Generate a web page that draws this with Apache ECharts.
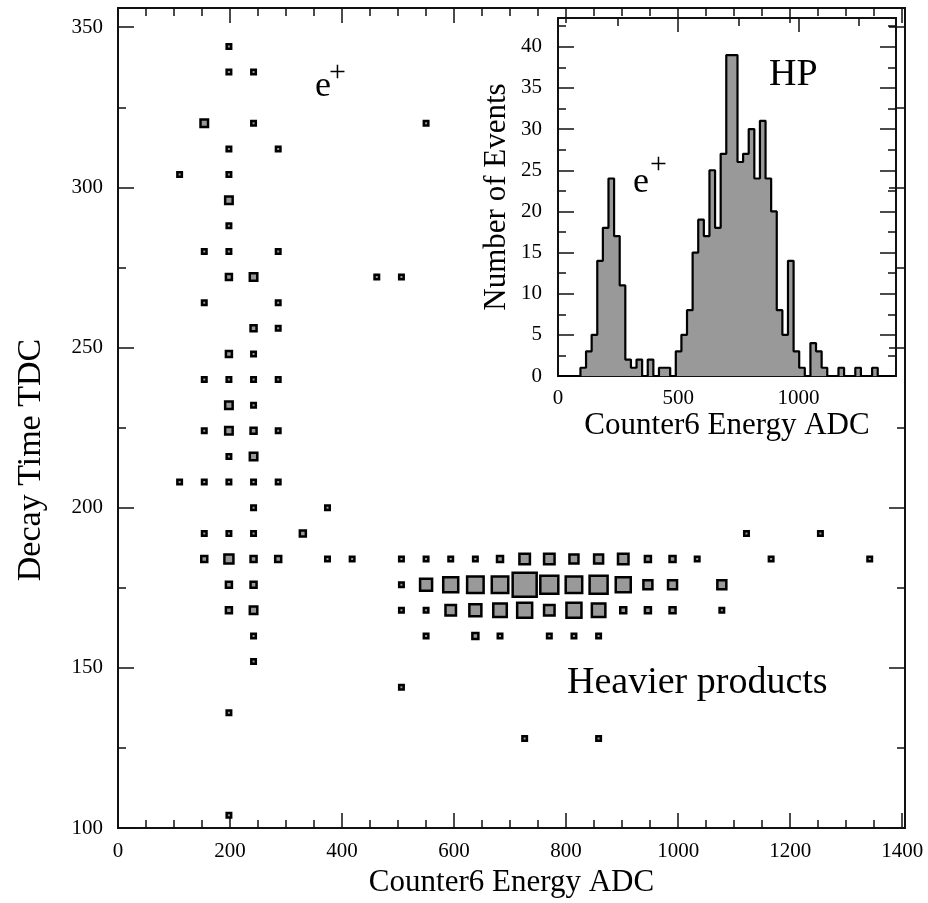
<!DOCTYPE html>
<html>
<head>
<meta charset="utf-8">
<title>Decay Time vs Counter6 Energy</title>
<script src="https://cdn.jsdelivr.net/npm/echarts@6/dist/echarts.min.js"></script>
<style>
  html, body { margin: 0; padding: 0; background: #fff; }
  #chart { width: 928px; height: 903px; }
</style>
</head>
<body>
<div id="chart"></div>
<script>
// 盒图数据：[能量 ADC 格子中心, 衰变时间 TDC 格子中心, 计数]
// e+ 区域（低能量竖列）
const positronCells = [
  [110, 304, 1], [110, 208, 1],
  [154, 320, 3], [154, 280, 1], [154, 264, 1], [154, 240, 1], [154, 224, 1], [154, 208, 1], [154, 192, 1], [154, 184, 2],
  [198, 344, 1], [198, 336, 1], [198, 312, 1], [198, 304, 1], [198, 296, 3], [198, 288, 1], [198, 280, 1], [198, 272, 2],
  [198, 248, 2], [198, 240, 1], [198, 232, 3], [198, 224, 3], [198, 216, 1], [198, 208, 1], [198, 192, 1], [198, 184, 4],
  [198, 176, 2], [198, 168, 2], [198, 136, 1], [198, 104, 1],
  [242, 336, 1], [242, 320, 1], [242, 272, 3], [242, 256, 2], [242, 248, 1], [242, 240, 1], [242, 232, 1], [242, 224, 2],
  [242, 216, 3], [242, 208, 1], [242, 200, 1], [242, 192, 1], [242, 184, 2], [242, 176, 2], [242, 168, 3], [242, 160, 1], [242, 152, 1],
  [286, 312, 1], [286, 280, 1], [286, 264, 1], [286, 256, 1], [286, 240, 1], [286, 224, 1], [286, 208, 1], [286, 184, 2],
  [330, 192, 2], [374, 200, 1], [374, 184, 1], [418, 184, 1]
]
// 重产物区域（横带）
const heavyCells = [
  [506, 184, 1], [550, 184, 1], [594, 184, 1], [638, 184, 1], [682, 184, 2], [726, 184, 5], [770, 184, 5],
  [814, 184, 4], [858, 184, 4], [902, 184, 5], [946, 184, 2], [990, 184, 2], [1034, 184, 1],
  [506, 176, 1], [550, 176, 6], [594, 176, 8], [638, 176, 9], [682, 176, 9], [726, 176, 14], [770, 176, 10],
  [814, 176, 9], [858, 176, 10], [902, 176, 8], [946, 176, 4], [990, 176, 4], [1078, 176, 4],
  [506, 168, 1], [550, 168, 1], [594, 168, 5], [638, 168, 6], [682, 168, 7], [726, 168, 8], [770, 168, 5],
  [814, 168, 8], [858, 168, 7], [902, 168, 2], [946, 168, 2], [990, 168, 2], [1078, 168, 1],
  [550, 160, 1], [638, 160, 2], [682, 160, 1], [770, 160, 1], [814, 160, 1], [858, 160, 1]
]
// 零散事件
const strayCells = [
  [462, 272, 1], [506, 272, 1], [550, 320, 1], [506, 144, 1], [726, 128, 1], [858, 128, 1],
  [1122, 192, 1], [1254, 192, 1], [1166, 184, 1], [1342, 184, 1]
]

// 插图直方图：60 个分箱，0 ~ 1400
const histMin = 0
const histBinWidth = 1400 / 60
const histCounts = [
  0, 0, 0, 0, 1, 3, 5, 14, 18, 24,
  17, 11, 2, 1, 2, 0, 2, 0, 1, 1,
  0, 3, 5, 8, 15, 19, 17, 25, 18, 27,
  39, 39, 26, 27, 30, 24, 31, 24, 20, 8,
  5, 14, 3, 1, 0, 4, 3, 1, 0, 0,
  1, 0, 0, 1, 0, 0, 1, 0, 0, 0
]

const FONT = 'Liberation Serif'
const frameColor = '#111'

// 阶梯线的点（每个分箱的左边缘 + 最后的右边缘）
const histPoints = histCounts.map((c, k) => [histMin + k * histBinWidth, c])
histPoints.push([histMin + histCounts.length * histBinWidth, histCounts[histCounts.length - 1]])

// 只画刻度的坐标轴（四边框上的长短刻度，朝内）
// onZero 要关掉，不然 top/right 轴会被挪到另一条轴的 0 处
function tickAxis (gridIndex, position, min, max, interval, length) {
  return {
    gridIndex: gridIndex,
    position: position,
    type: 'value',
    min: min,
    max: max,
    interval: interval,
    axisLine: { show: false, onZero: false },
    axisTick: { show: true, inside: true, length: length, lineStyle: { color: frameColor, width: 1.5 } },
    axisLabel: { show: false },
    splitLine: { show: false }
  }
}

// 只画刻度文字和标题的坐标轴
function labelAxis (gridIndex, position, min, max, interval, margin, name, nameGap) {
  return {
    gridIndex: gridIndex,
    position: position,
    type: 'value',
    min: min,
    max: max,
    interval: interval,
    axisLine: { show: false, onZero: false },
    axisTick: { show: false },
    splitLine: { show: false },
    axisLabel: {
      show: true,
      margin: margin,
      color: '#000',
      fontFamily: FONT,
      fontSize: 21,
      formatter: (v) => (Math.abs(v % interval) < 1e-6 ? String(v) : '')
    },
    name: name,
    nameLocation: 'middle',
    nameGap: nameGap,
    nameTextStyle: { color: '#000', fontFamily: FONT, fontSize: 31 }
  }
}

const chart = echarts.init(document.getElementById('chart'))

chart.setOption({
  animation: false,
  backgroundColor: '#fff',
  grid: [
    { left: 118, top: 8, width: 787, height: 829, show: true, borderColor: frameColor, borderWidth: 2 },
    { left: 558, top: 18, width: 338, height: 358, show: true, borderColor: frameColor, borderWidth: 2 }
  ],
  xAxis: [
    labelAxis(0, 'bottom', 0, 1405, 200, 13, 'Counter6 Energy ADC', 31),
    tickAxis(0, 'bottom', 0, 1405, 200, 15),
    tickAxis(0, 'bottom', 0, 1405, 50, 8),
    tickAxis(0, 'top', 0, 1405, 200, 15),
    tickAxis(0, 'top', 0, 1405, 50, 8),
    labelAxis(1, 'bottom', 0, 1406, 500, 12, 'Counter6 Energy ADC', 32),
    tickAxis(1, 'bottom', 0, 1406, 500, 14),
    tickAxis(1, 'bottom', 0, 1406, 250, 8),
    tickAxis(1, 'top', 0, 1406, 500, 14),
    tickAxis(1, 'top', 0, 1406, 250, 8)
  ],
  yAxis: [
    labelAxis(0, 'left', 100, 356, 50, 15, '', 0),
    tickAxis(0, 'left', 100, 356, 50, 16),
    tickAxis(0, 'left', 100, 356, 25, 8),
    tickAxis(0, 'right', 100, 356, 50, 16),
    tickAxis(0, 'right', 100, 356, 25, 8),
    labelAxis(1, 'left', 0, 43.5, 5, 16, 'Number of Events', 46),
    tickAxis(1, 'left', 0, 43.5, 5, 16),
    tickAxis(1, 'left', 0, 43.5, 2.5, 8),
    tickAxis(1, 'right', 0, 43.5, 5, 16),
    tickAxis(1, 'right', 0, 43.5, 2.5, 8)
  ],
  series: [
    {
      name: 'cells',
      type: 'scatter',
      xAxisIndex: 0,
      yAxisIndex: 0,
      symbol: 'rect',
      symbolSize: (val) => 3 + 1.5 * val[2], // 边长随计数变化
      itemStyle: { color: '#999', borderColor: '#000', borderWidth: 2.5, opacity: 1 },
      silent: true,
      data: positronCells.concat(heavyCells, strayCells)
    },
    {
      name: 'hist',
      type: 'line',
      xAxisIndex: 5,
      yAxisIndex: 5,
      step: 'end',
      symbol: 'none',
      silent: true,
      lineStyle: { color: '#000', width: 2.2 },
      areaStyle: { color: '#999', opacity: 1 },
      data: histPoints
    }
  ],
  graphic: [
    // 主图纵轴标题
    { type: 'text', x: 31, y: 460, rotation: Math.PI / 2, style: { text: 'Decay Time TDC', font: '34px "Liberation Serif"', fill: '#000', align: 'center', verticalAlign: 'middle' } },
    { type: 'text', x: 315, y: 87, style: { text: 'e', font: '36px "Liberation Serif"', fill: '#000', verticalAlign: 'middle' } },
    { type: 'text', x: 329, y: 73, style: { text: '+', font: '30px "Liberation Serif"', fill: '#000', verticalAlign: 'middle' } },
    { type: 'text', x: 567, y: 683, style: { text: 'Heavier products', font: '38px "Liberation Serif"', fill: '#000', verticalAlign: 'middle' } },
    { type: 'text', x: 633, y: 183, style: { text: 'e', font: '36px "Liberation Serif"', fill: '#000', verticalAlign: 'middle' } },
    { type: 'text', x: 650, y: 165, style: { text: '+', font: '30px "Liberation Serif"', fill: '#000', verticalAlign: 'middle' } },
    { type: 'text', x: 769, y: 75, style: { text: 'HP', font: '38px "Liberation Serif"', fill: '#000', verticalAlign: 'middle' } }
  ]
})
</script>
</body>
</html>
